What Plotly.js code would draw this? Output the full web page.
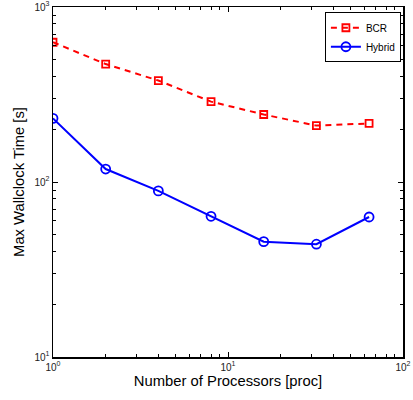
<!DOCTYPE html>
<html><head><meta charset="utf-8">
<script src="https://cdn.plot.ly/plotly-3.0.1.min.js"></script>
<style>html,body{margin:0;padding:0;background:#fff}#chart{width:413px;height:400px}</style>
</head><body><div id="chart"></div>
<script>
const processors = [1, 2, 4, 8, 16, 32, 64];
const bcrTime = [629, 472, 380, 288, 243, 210, 216];
const hybridTime = [231, 118.6, 88.9, 63.7, 45.6, 44.1, 63.1];
const xTickVals = [1, 10, 100];
const xTickText = ['10<sup>0</sup>', '10<sup>1</sup>', '10<sup>2</sup>'];
const yTickVals = [10, 100, 1000];
const yTickText = ['10<sup>1</sup>', '10<sup>2</sup>', '10<sup>3</sup>'];

const font = 'Liberation Sans, Arial, sans-serif';
const traces = [
  {x: processors, y: bcrTime, name: 'BCR', type: 'scatter', mode: 'lines+markers',
   line: {color: '#ff0000', width: 2, dash: '6px,5px'},
   marker: {symbol: 'square-open', size: 7, color: '#ff0000', line: {width: 1.8, color: '#ff0000'}}},
  {x: processors, y: hybridTime, name: 'Hybrid', type: 'scatter', mode: 'lines+markers',
   line: {color: '#0000ff', width: 2},
   marker: {symbol: 'circle-open', size: 9, color: '#0000ff', line: {width: 1.8, color: '#0000ff'}}}
];
const axisCommon = {
  type: 'log', showgrid: false, zeroline: false, showline: true, mirror: 'ticks',
  linecolor: '#000', linewidth: 1.5, ticks: 'inside', ticklen: 5, tickwidth: 1, tickcolor: '#000',
  tickfont: {family: font, size: 10, color: '#222'},
  minor: {ticks: 'inside', ticklen: 3, tickwidth: 1, tickcolor: '#000', dtick: 'D1', showgrid: false}
};
const layout = {
  width: 413, height: 400,
  margin: {l: 53, r: 10, t: 7, b: 43},
  paper_bgcolor: '#fff', plot_bgcolor: '#fff',
  font: {family: font, color: '#000'},
  showlegend: true,
  legend: {x: 0.994, y: 0.985, xanchor: 'right', yanchor: 'top', bgcolor: '#fff',
           bordercolor: '#000', borderwidth: 1, font: {family: font, size: 10, color: '#000'},
           tracegroupgap: 0, itemwidth: 30},
  xaxis: Object.assign({}, axisCommon, {range: [0, 2], tickmode: 'array', tickvals: xTickVals, ticktext: xTickText,
    title: {text: 'Number of Processors [proc]', font: {family: font, size: 14.8, color: '#000'}, standoff: 4}}),
  yaxis: Object.assign({}, axisCommon, {range: [1, 3], tickmode: 'array', tickvals: yTickVals, ticktext: yTickText,
    title: {text: 'Max Wallclock Time [s]', font: {family: font, size: 14.8, color: '#000'}, standoff: 6}})
};
Plotly.newPlot('chart', traces, layout, {displayModeBar: false, staticPlot: true});
</script></body></html>
